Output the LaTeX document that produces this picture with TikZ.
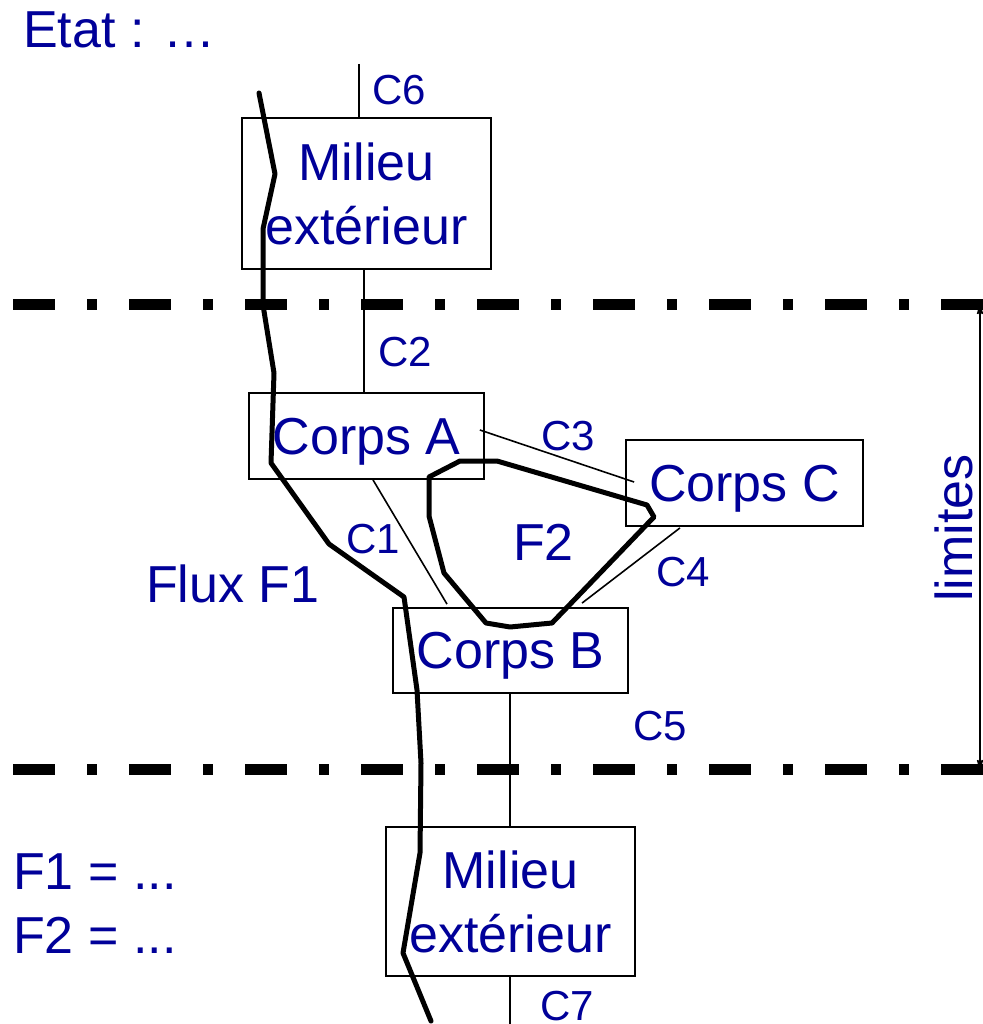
\documentclass[tikz,border=0pt]{standalone}
\usepackage{fontspec}
\setmainfont{Liberation Sans}
\usetikzlibrary{arrows.meta,calc}
\definecolor{tblue}{RGB}{0,0,153}
\begin{document}
\begin{tikzpicture}[x=1pt,y=-1pt,
 box/.style={draw=black,line width=1.8pt,inner sep=0pt,text=tblue,font=\fontsize{52}{64}\selectfont},
 mbox/.style={box,align=center},
 onebox/.style={box,text height=38.5pt,text depth=2.5pt},
 big/.style={text=tblue,font=\fontsize{52}{64}\selectfont,inner sep=0pt,anchor=base west},
 lab/.style={text=tblue,font=\fontsize{42}{50}\selectfont,inner sep=0pt,anchor=base west},
 conn/.style={draw=black,line width=1.6pt},
 flux/.style={draw=black,line width=5pt,line join=round,line cap=round},
 limit/.style={draw=black,line width=11pt,dash pattern=on 42pt off 32pt on 10pt off 32pt}]
\useasboundingbox (0,0) rectangle (982,1024);
\fill[white] (0,0) rectangle (982,1024);

% boxes
\node[mbox,minimum width=249pt,minimum height=151pt] (m1) at (366.5,193.5) {Milieu\\extérieur};
\node[onebox,minimum width=235pt,minimum height=86pt] (A) at (366.5,436) {Corps A};
\node[onebox,minimum width=237pt,minimum height=86pt] (C) at (744.5,483) {Corps C};
\node[onebox,minimum width=235pt,minimum height=85pt] (B) at (510.5,650.5) {Corps B};
\node[mbox,minimum width=249pt,minimum height=149pt] (m2) at (510.5,901.5) {Milieu\\extérieur};

% connectors
\coordinate (c6) at (359,64);
\coordinate (c7) at (510,1024);
\draw[conn] (c6) -- (c6 |- m1.north);
\draw[conn] ($(m1.south)+(-2.5,0)$) -- ($(A.north)+(-2.5,0)$);
\draw[conn] ($(A.south)+(6.5,0)$) -- ($(B.north)+(-63.5,-3)$);
\draw[conn] ($(A.east)+(-5,-6)$) -- ($(C.west)+(9,-1)$);
\draw[conn] ($(C.south)+(-64.5,1)$) -- ($(B.north)+(71.5,-4)$);
\draw[conn] ($(B.south)+(-0.5,0)$) -- ($(m2.north)+(-0.5,0)$);
\draw[conn] ($(m2.south)+(-0.5,0)$) -- (c7);

% connector labels
\node[lab] (l6) at (372,105) {C6};
\node[lab] (l2) at (378,366) {C2};
\node[lab] (l1) at (346,553) {C1};
\node[lab] (l3) at (541,450) {C3};
\node[lab] (l4) at (656,586) {C4};
\node[lab] (l5) at (633,740) {C5};
\node[lab] (l7) at (540,1020) {C7};

% other texts
\node[big] (etat) at (23,48) {Etat : …};
\node[big] (flux) at (146,602) {Flux F1};
\node[big] (f2) at (513,560) {F2};
\node[big] (eq1) at (13,889) {F1 = ...};
\node[big] (eq2) at (13,953) {F2 = ...};

% flux lines
\draw[flux] (259,93) -- (275,174) -- (263,229) -- (263,305) -- (274,373) -- (271,463)
  -- (329,544) -- (404,597) -- (417,690) -- (421,763) -- (420,853) -- (403,953) -- (431,1021);
\draw[flux] (429,477) -- (460,461) -- (497,461) -- (647,505) -- (654,517) -- (552,623)
  -- (510,627) -- (486,623) -- (444,573) -- (429,516) -- cycle;

% limits
\draw[limit] (13,304) -- (983,304);
\draw[limit] (13,769.5) -- (983,769.5);
\coordinate (lt) at (980,302);
\coordinate (lb) at (980,772);
\draw[line width=1.6pt,{Stealth[length=26pt,width=14pt,inset=18pt]}-{Stealth[length=26pt,width=14pt,inset=18pt]}] (lt) -- (lb);
\node[text=tblue,font=\fontsize{52}{64}\selectfont,rotate=90,anchor=base,inner sep=0pt] (lim) at (972,528) {limites};
\end{tikzpicture}
\end{document}
